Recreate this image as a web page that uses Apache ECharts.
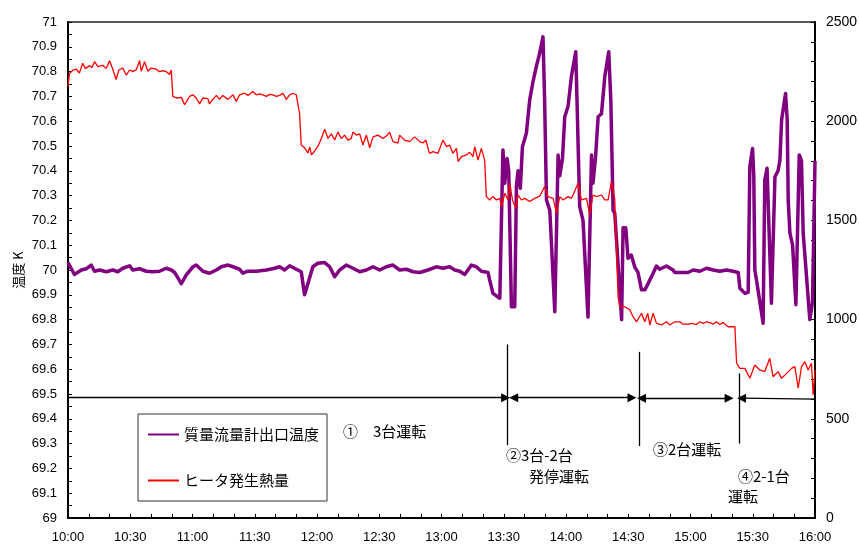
<!DOCTYPE html>
<html>
<head>
<meta charset="utf-8">
<script src="https://cdn.jsdelivr.net/npm/echarts@6/dist/echarts.min.js"></script>
<style>
  html, body { margin: 0; padding: 0; background: #fff; }
  #chart { width: 859px; height: 548px; }
</style>
</head>
<body>
<div id="chart"></div>
<script>
// Time axis: minutes after 10:00, labelled every 30 minutes
const timeLabels = ['10:00', '10:30', '11:00', '11:30', '12:00', '12:30', '13:00',
  '13:30', '14:00', '14:30', '15:00', '15:30', '16:00'];

// 質量流量計出口温度 [K] (left axis)
const outletTempT = [0, 3.1, 6.4, 8.8, 11.2, 12.8, 15.2, 18.4, 21.6, 24.0, 26.4, 29.7, 31.2, 34.5, 37.7, 40.9,
  44.1, 47.3, 49.8, 51.4, 54.6, 57.0, 60.2, 61.8, 65.0, 68.2, 71.5, 73.9, 77.1, 79.5, 82.7, 84.3, 86.7, 90.7,
  95.6, 99.6, 102.0, 104.4, 106.8, 110.0, 112.4, 114.0, 115.1, 118.0, 120.4, 123.7, 126.1, 128.5, 130.9, 134.1,
  137.3, 140.6, 143.8, 147.0, 150.2, 153.4, 156.6, 159.8, 163.1, 166.3, 169.5, 173.5, 177.5, 180.7, 183.9, 186.4,
  188.8, 191.2, 194.4, 196.8, 199.2, 202.4, 203.2, 204.8, 208.1, 209.6, 210.5, 211.6, 212.4, 213.7, 215.3, 216.1,
  216.9, 218.0, 219.0, 220.9, 222.5, 224.1, 225.7, 227.3, 228.9, 229.7, 230.6, 232.2, 234.6, 236.2, 237.0, 238.3,
  239.4, 241.0, 242.6, 244.7, 245.3, 246.6, 248.2, 250.6, 252.3, 253.0, 254.2, 255.5, 257.1, 258.7, 260.6, 261.6,
  262.7, 263.5, 266.8, 267.5, 268.8, 269.9, 271.5, 273.1, 274.7, 276.4, 278.0, 279.6, 282.0, 283.6, 285.2, 288.4,
  291.6, 292.4, 298.8, 301.3, 304.5, 307.7, 310.9, 314.1, 317.4, 320.5, 323.0, 323.8, 326.2, 327.8, 328.6, 329.9,
  330.5, 331.0, 331.8, 332.6, 335.0, 335.8, 336.9, 337.9, 339.0, 340.7, 342.2, 343.1, 343.9, 345.8, 346.6, 347.1,
  347.9, 349.2, 350.8, 352.4, 353.5, 354.3, 357.5, 358.8, 360];
const outletTempV = [70.03, 69.982, 70.0, 70.005, 70.02, 69.995, 70.0, 69.993, 70.0, 69.993, 70.007, 70.017, 70.0,
  70.005, 69.995, 69.993, 69.995, 70.007, 70.0, 69.99, 69.945, 69.98, 70.013, 70.02, 69.995, 69.987, 70.0, 70.013,
  70.02, 70.013, 70.003, 69.987, 69.995, 69.995, 70.0, 70.007, 70.013, 70.0, 70.017, 70.003, 69.993, 69.90, 69.93,
  70.013, 70.027, 70.03, 70.013, 69.973, 70.0, 70.02, 70.007, 69.993, 70.0, 70.013, 70.0, 70.013, 70.02, 70.0,
  70.003, 69.993, 69.99, 70.0, 70.013, 70.007, 70.013, 70.0, 69.995, 69.982, 70.02, 70.013, 69.995, 69.99, 69.96,
  69.906, 69.886, 70.484, 70.35, 70.45, 70.40, 69.852, 69.852, 70.336, 70.40, 70.33, 70.497, 70.551, 70.685, 70.76,
  70.82, 70.874, 70.94, 70.685, 70.282, 70.24, 69.832, 70.464, 70.38, 70.45, 70.618, 70.66, 70.78, 70.88, 70.685,
  70.255, 70.20, 69.81, 70.464, 70.35, 70.45, 70.618, 70.63, 70.78, 70.88, 70.685, 70.24, 70.23, 69.80, 70.17,
  70.17, 70.047, 70.06, 70.013, 69.99, 69.92, 69.92, 69.946, 69.987, 70.016, 70.003, 70.016, 70.0, 69.99, 69.99,
  70.0, 69.995, 70.007, 70.0, 69.995, 70.0, 69.995, 69.99, 69.926, 69.906, 69.91, 70.416, 70.49, 70.38, 70.0,
  69.96, 69.955, 69.785, 70.363, 70.41, 70.15, 69.866, 70.376, 70.40, 70.443, 70.605, 70.712, 70.605, 70.28,
  70.15, 70.1, 69.86, 70.464, 70.44, 70.15, 69.8, 69.87, 70.44];

// ヒータ発生熱量 (right axis)
const heaterT = [0, 0.7, 2.5, 4.0, 5.5, 7.1, 8.4, 10.4, 11.5, 12.8, 14.4, 16.8, 18.4, 20.0, 21.6, 23.2, 24.5, 26.4,
  28.1, 29.7, 31.2, 32.9, 34.5, 35.3, 36.9, 38.5, 40.1, 42.5, 44.1, 45.8, 47.3, 48.9, 49.8, 50.5, 52.2, 54.6, 56.2,
  58.6, 60.2, 61.8, 63.4, 65.0, 67.4, 68.2, 69.8, 71.5, 73.0, 74.6, 77.1, 79.5, 81.1, 82.7, 85.1, 86.7, 89.1, 90.7,
  92.3, 93.9, 95.6, 97.2, 98.7, 100.4, 102.0, 103.6, 105.2, 106.8, 108.4, 110.0, 111.6, 112.4, 114.0, 115.6, 116.5,
  117.3, 118.9, 120.4, 122.1, 123.7, 125.3, 126.9, 128.5, 130.1, 131.7, 133.3, 134.9, 136.5, 137.3, 139.0, 140.6,
  142.1, 143.8, 145.4, 147.0, 149.4, 151.8, 153.4, 155.0, 156.6, 159.0, 159.8, 162.2, 164.7, 167.1, 169.5, 171.1,
  172.5, 173.8, 174.3, 175.9, 178.3, 180.7, 182.4, 183.9, 185.5, 187.2, 188.0, 189.6, 192.0, 193.6, 195.2, 196.0,
  197.6, 199.2, 200.8, 201.6, 203.2, 204.8, 206.5, 208.1, 208.9, 210.5, 212.1, 212.9, 214.2, 215.8, 216.9, 218.5,
  220.1, 222.5, 224.9, 227.3, 229.7, 231.3, 233.8, 235.4, 237.0, 238.6, 241.0, 242.6, 243.4, 245.8, 247.4, 249.9,
  251.4, 253.0, 254.7, 257.1, 258.7, 260.3, 261.9, 263.5, 265.1, 265.9, 268.3, 270.7, 272.3, 274.0, 276.4, 278.0,
  279.4, 280.4, 282.0, 283.6, 286.0, 288.4, 290.0, 292.4, 294.8, 296.4, 298.8, 300.6, 302.9, 304.5, 306.1, 307.7,
  309.3, 310.9, 312.5, 314.1, 315.7, 318.1, 321.4, 322.2, 323.8, 326.2, 328.6, 331.0, 333.4, 335.8, 338.2, 339.8,
  342.2, 343.9, 346.3, 348.7, 350.3, 351.9, 353.5, 355.1, 356.7, 358.3, 359.1, 360];
const heaterV = [2175, 2240, 2258, 2262, 2243, 2292, 2265, 2280, 2270, 2300, 2275, 2282, 2265, 2305, 2262, 2210,
  2258, 2268, 2232, 2258, 2250, 2260, 2305, 2252, 2300, 2252, 2268, 2262, 2250, 2255, 2250, 2235, 2258, 2125, 2117,
  2120, 2083, 2125, 2133, 2117, 2087, 2117, 2114, 2087, 2110, 2130, 2110, 2130, 2110, 2133, 2100, 2133, 2141, 2130,
  2150, 2133, 2138, 2133, 2125, 2135, 2133, 2125, 2130, 2141, 2110, 2133, 2141, 2133, 2040, 1880, 1866, 1840, 1870,
  1830, 1850, 1873, 1913, 1960, 1913, 1936, 1905, 1945, 1913, 1930, 1905, 1913, 1945, 1930, 1936, 1880, 1930, 1866,
  1921, 1930, 1913, 1925, 1945, 1897, 1890, 1930, 1905, 1897, 1921, 1897, 1890, 1905, 1850, 1838, 1847, 1838, 1905,
  1872, 1880, 1838, 1863, 1796, 1821, 1830, 1843, 1821, 1872, 1804, 1863, 1804, 1620, 1603, 1620, 1603, 1611, 1570,
  1637, 1603, 1687, 1603, 1561, 1628, 1603, 1611, 1595, 1611, 1622, 1670, 1620, 1611, 1536, 1620, 1603, 1620, 1611,
  1628, 1687, 1603, 1611, 1528, 1628, 1620, 1628, 1603, 1603, 1695, 1607, 1115, 1065, 1065, 1050, 1015, 989, 1032,
  989, 1032, 973, 1032, 981, 973, 989, 973, 989, 989, 977, 977, 981, 975, 989, 981, 989, 985, 977, 989, 975, 985,
  964, 964, 780, 754, 754, 704, 771, 746, 738, 805, 712, 738, 704, 729, 754, 763, 654, 763, 788, 746, 780, 620, 746];

// Operating phase markers: times (min after 10:00) and temperature levels on the left axis
const phaseBounds = [211.6, 275.2, 323.3];
const phaseBoundTop = [69.70, 69.67, 69.583];
const phaseBoundBottom = [69.294, 69.29, 69.30];
const phaseArrowLevel = 69.485;

const zip = (t, v) => t.map((x, i) => [x, v[i]]);

const jpFont = '"Noto Sans CJK JP", sans-serif';
const numFont = 'Arial, "Liberation Sans", sans-serif';

const noSym = { symbol: 'none' };
const arrowSym = { symbol: 'triangle' };
const phaseLines = [
  [{ coord: [0, phaseArrowLevel], ...noSym }, { coord: [210.9, phaseArrowLevel], ...arrowSym }],
  [{ coord: [214.8, phaseArrowLevel], ...arrowSym }, { coord: [271.8, phaseArrowLevel], ...arrowSym }],
  [{ coord: [276.4, phaseArrowLevel - 0.002], ...arrowSym }, { coord: [318.6, phaseArrowLevel - 0.002], ...arrowSym }],
  [{ coord: [324.6, phaseArrowLevel - 0.002], ...arrowSym }, { coord: [360, phaseArrowLevel - 0.006], ...noSym }]
];
phaseBounds.forEach((t, i) => {
  phaseLines.push([{ coord: [t, phaseBoundTop[i]], ...noSym }, { coord: [t, phaseBoundBottom[i]], ...noSym }]);
});

const chart = echarts.init(document.getElementById('chart'), null, { renderer: 'canvas' });

const axisLineStyle = { show: true, lineStyle: { color: '#000', width: 2 } };
const tickStyle = { lineStyle: { color: '#000', width: 1 } };

chart.setOption({
  animation: false,
  backgroundColor: '#fff',
  grid: {
    left: 68, right: 44, top: 22, bottom: 30,
    containLabel: false, outerBoundsMode: 'none',
    show: true, borderColor: '#222', borderWidth: 1.5, backgroundColor: 'transparent'
  },
  legend: {
    orient: 'vertical',
    left: 138, top: 414,
    padding: [13, 8, 13, 9],
    itemGap: 31,
    itemWidth: 31, itemHeight: 14,
    backgroundColor: '#fff',
    borderColor: '#333', borderWidth: 1,
    itemStyle: { opacity: 0 },
    textStyle: { fontSize: 15, fontFamily: jpFont, color: '#000' },
    data: ['質量流量計出口温度', 'ヒータ発生熱量']
  },
  xAxis: {
    type: 'value', min: 0, max: 360, interval: 30,
    axisLine: axisLineStyle,
    axisTick: { show: true, inside: true, length: 4, ...tickStyle },
    minorTick: { show: true, splitNumber: 3, length: 4, ...tickStyle },
    axisLabel: {
      formatter: v => timeLabels[Math.round(v / 30)],
      fontSize: 13, fontFamily: numFont, color: '#000', margin: 13
    },
    splitLine: { show: false }
  },
  yAxis: [
    {
      type: 'value', position: 'left', min: 69, max: 71, interval: 0.1,
      name: '温度 K', nameLocation: 'middle', nameGap: 43, nameRotate: 90,
      nameMoveOverlap: false,
      nameTextStyle: { fontSize: 13, fontFamily: jpFont, color: '#000' },
      axisLine: axisLineStyle,
      axisTick: { show: true, inside: true, length: 4, ...tickStyle },
      minorTick: { show: true, splitNumber: 2, length: 4, ...tickStyle },
      axisLabel: {
        formatter: v => String(Math.round(v * 10) / 10),
        fontSize: 13, fontFamily: numFont, color: '#000', margin: 11
      },
      splitLine: { show: false }
    },
    {
      type: 'value', position: 'right', min: 0, max: 2500, interval: 500,
      axisLine: axisLineStyle,
      axisTick: { show: true, inside: true, length: 4, ...tickStyle },
      minorTick: { show: true, splitNumber: 5, length: 4, ...tickStyle },
      axisLabel: {
        formatter: v => String(Math.round(v)),
        fontSize: 14, fontFamily: numFont, color: '#000', margin: 11
      },
      splitLine: { show: false }
    }
  ],
  series: [
    {
      name: '質量流量計出口温度',
      type: 'line', yAxisIndex: 0,
      data: zip(outletTempT, outletTempV),
      symbol: 'none', showSymbol: false,
      lineStyle: { color: '#800080', width: 3.5, join: 'round' },
      itemStyle: { color: '#800080' },
      markLine: {
        silent: true,
        symbolSize: 9,
        label: { show: false },
        lineStyle: { color: '#000', width: 1.3, type: 'solid' },
        emphasis: { disabled: true },
        data: phaseLines
      }
    },
    {
      name: 'ヒータ発生熱量',
      type: 'line', yAxisIndex: 1,
      data: zip(heaterT, heaterV),
      symbol: 'none', showSymbol: false,
      lineStyle: { color: '#ff0000', width: 1.3 },
      itemStyle: { color: '#ff0000' }
    }
  ],
  graphic: [
    { type: 'text', x: 343, y: 431, style: { text: '①　3台運転', font: '15px ' + jpFont, fill: '#000', verticalAlign: 'middle' } },
    { type: 'text', x: 506, y: 455, style: { text: '②3台-2台', font: '15px ' + jpFont, fill: '#000', verticalAlign: 'middle' } },
    { type: 'text', x: 529, y: 476, style: { text: '発停運転', font: '15px ' + jpFont, fill: '#000', verticalAlign: 'middle' } },
    { type: 'text', x: 653, y: 449, style: { text: '③2台運転', font: '15px ' + jpFont, fill: '#000', verticalAlign: 'middle' } },
    { type: 'text', x: 738, y: 476, style: { text: '④2-1台', font: '15px ' + jpFont, fill: '#000', verticalAlign: 'middle' } },
    { type: 'text', x: 728, y: 496, style: { text: '運転', font: '15px ' + jpFont, fill: '#000', verticalAlign: 'middle' } }
  ]
});
</script>
</body>
</html>
